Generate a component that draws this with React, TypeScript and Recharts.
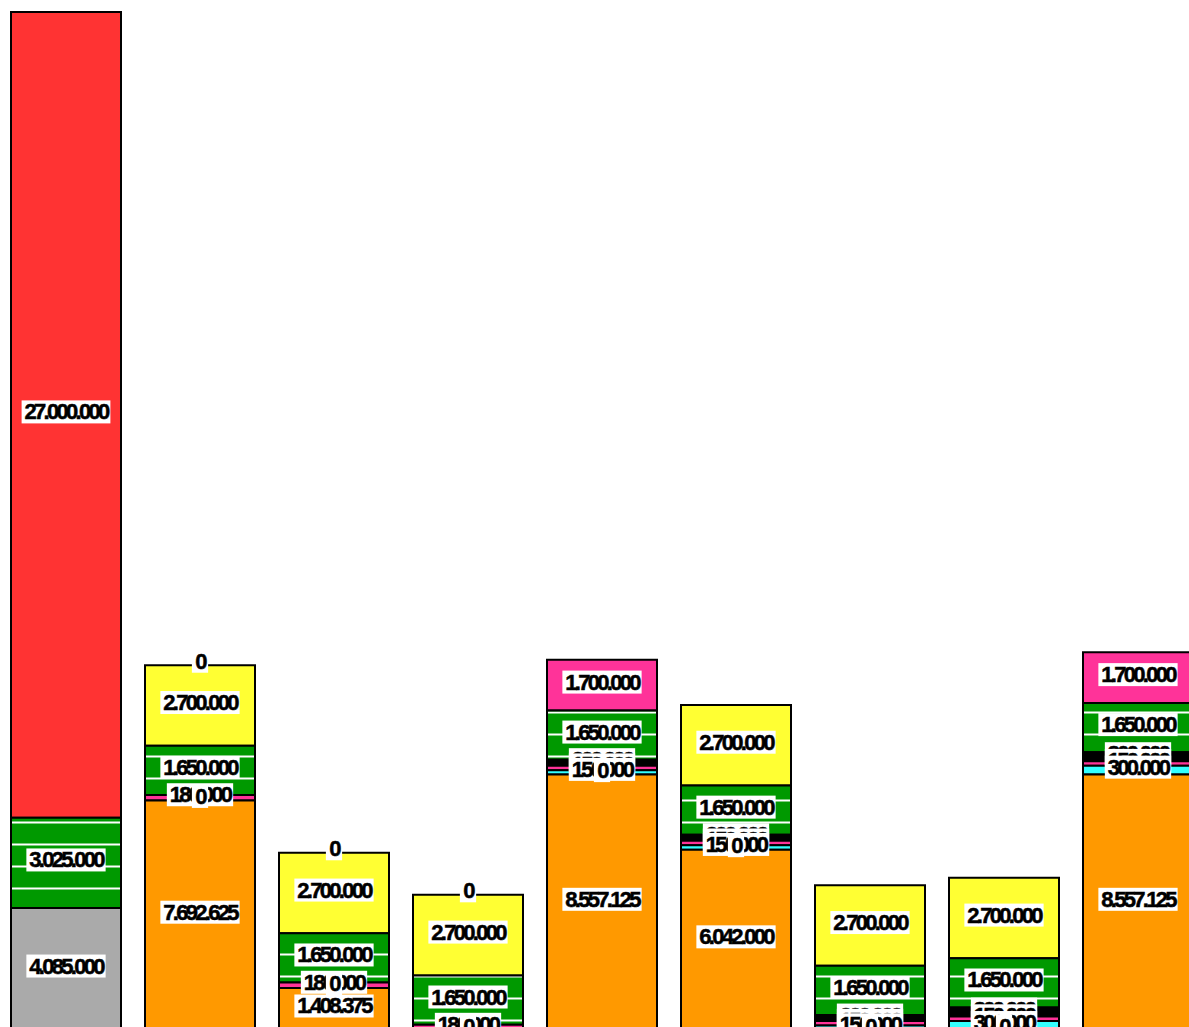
import { Bar, BarChart, LabelList, XAxis, YAxis } from "recharts";

const categories = ["1", "2", "3", "4", "5", "6", "7", "8", "9"];

const gray = [4085000, null, null, null, null, null, null, null, null];
const orange = [null, 7692625, 1408375, null, 8557125, 6042000, null, null, 8557125];
const midZero = [null, 0, 0, 0, 0, 0, 0, 0, null];
const cyan = [null, null, null, null, 150000, 150000, 150000, 300000, 300000];
const pink = [null, 180000, 180000, 180000, 150000, 150000, 150000, 150000, 150000];
const black = [null, null, null, null, 200000, 200000, 200000, 300000, 300000];
const green = [3025000, 1650000, 1650000, 1650000, 1650000, 1650000, 1650000, 1650000, 1650000];
const yellow = [null, 2700000, 2700000, 2700000, null, 2700000, 2700000, 2700000, null];
const pinkTop = [null, null, null, null, 1700000, null, null, null, 1700000];
const red = [27000000, null, null, null, null, null, null, null, null];
const topZero = [null, 0, 0, 0, null, null, null, null, null];

const data = categories.map((name, i) => ({
	name,
	gray: gray[i],
	orange: orange[i],
	midZero: midZero[i],
	cyan: cyan[i],
	pink: pink[i],
	black: black[i],
	green: green[i],
	yellow: yellow[i],
	pinkTop: pinkTop[i],
	red: red[i],
	topZero: topZero[i],
}));

// declared top of stack first; reverseStackOrder puts the last one at the bottom
const series = [
	{ key: "topZero", fill: "none", zero: true },
	{ key: "red", fill: "#FF3333" },
	{ key: "pinkTop", fill: "#FF3399" },
	{ key: "yellow", fill: "#FFFF33" },
	{ key: "green", fill: "url(#greenStripes)" },
	{ key: "black", fill: "#000000" },
	{ key: "pink", fill: "#FF3399" },
	{ key: "cyan", fill: "#33FFFF" },
	{ key: "midZero", fill: "none", zero: true },
	{ key: "orange", fill: "#FF9900" },
	{ key: "gray", fill: "#AAAAAA" },
];

const FONT_SIZE = 22;
const LETTER_SPACING = -2.7;

function formatValue(v: number): string {
	return String(Math.round(v)).replace(/\B(?=(\d{3})+(?!\d))/g, ".");
}

function textWidth(s: string): number {
	let w = 0;
	for (const ch of s) w += ch === "." ? 0.278 : 0.556;
	return w * FONT_SIZE + (s.length - 1) * LETTER_SPACING;
}

function SegmentLabel(props: any) {
	const { value } = props;
	if (value === null || value === undefined) return null;
	const box = props.viewBox ?? props;
	const { x, y, width } = box;
	if ([x, y, width].some((n) => typeof n !== "number")) return null;
	const height = Number(value) === 0 ? 0 : box.height;
	const cx = x + width / 2;
	const cy = y + height / 2 - 3;
	const text = formatValue(Number(value));
	const w = textWidth(text) + (text.length === 1 ? 4 : 3);
	return (
		<g>
			<rect fill="#fff" height={23} width={w} x={cx - w / 2} y={cy - 11.5} />
			<text
				dominantBaseline="central"
				fill="#000"
				fontFamily="'Liberation Sans', Arial, sans-serif"
				fontSize={FONT_SIZE}
				fontWeight="bold"
				letterSpacing={LETTER_SPACING}
				stroke="#000"
				strokeWidth={0.5}
				textAnchor="middle"
				x={cx}
				y={cy}
			>
				{text}
			</text>
		</g>
	);
}

const chartProps = {
	width: 1206,
	height: 1030,
	data,
	margin: { top: 12, right: 0, bottom: 0, left: 0 },
	barSize: 110,
	reverseStackOrder: true,
};

export default function App() {
	return (
		<div
			style={{
				position: "fixed",
				left: 0,
				top: 0,
				width: 1189,
				height: 1027,
				overflow: "hidden",
				background: "#fff",
			}}
		>
			<svg height={0} style={{ position: "absolute" }} width={0}>
				<defs>
					<pattern
						height={22}
						id="greenStripes"
						patternUnits="userSpaceOnUse"
						width={20}
					>
						<rect fill="#009900" height={22} width={20} />
						<rect fill="#ffffff" height={2} width={20} y={7.5} />
					</pattern>
				</defs>
			</svg>
			<div style={{ position: "absolute", left: -1, top: 0 }}>
				<BarChart {...chartProps}>
					<XAxis dataKey="name" hide />
					<YAxis domain={[0, "dataMax"]} hide />
					{series.map((s) => (
						<Bar
							dataKey={s.key}
							fill={s.fill}
							isAnimationActive={false}
							key={s.key}
							stackId="a"
							stroke="#000"
							strokeWidth={2}
						/>
					))}
				</BarChart>
			</div>
			<div style={{ position: "absolute", left: -1, top: 0 }}>
				<BarChart {...chartProps}>
					<XAxis dataKey="name" hide />
					<YAxis domain={[0, "dataMax"]} hide />
					{series.map((s) => (
						<Bar
							dataKey={s.key}
							fill="none"
							isAnimationActive={false}
							key={s.key}
							minPointSize={s.zero ? 1 : 0}
							stackId="a"
							stroke="none"
						>
							<LabelList content={SegmentLabel} dataKey={s.key} />
						</Bar>
					))}
				</BarChart>
			</div>
		</div>
	);
}
